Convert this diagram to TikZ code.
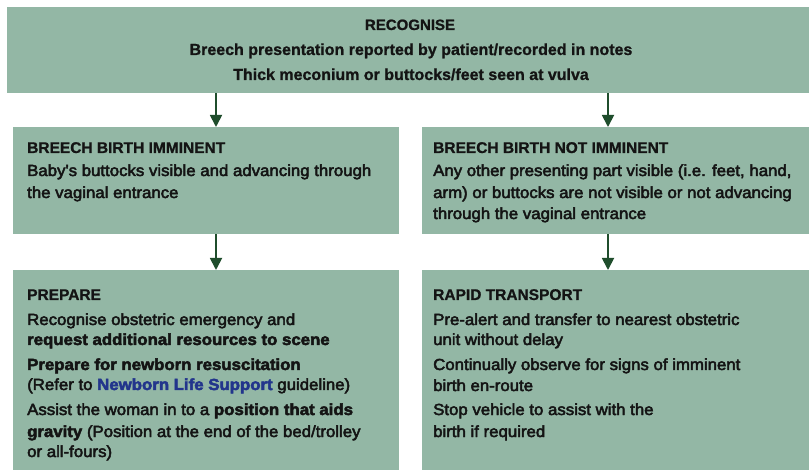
\documentclass[tikz,border=0pt]{standalone}
\usepackage{fontspec}
\setmainfont{Liberation Sans}[BoldFeatures={FakeBold=1}]
\newfontfamily\medf[FakeBold=3,FakeStretch=1.05]{Liberation Sans}
\usetikzlibrary{arrows.meta}
\definecolor{boxfill}{HTML}{93B7A5}
\definecolor{arrowc}{HTML}{1F4D2C}
\definecolor{txt}{HTML}{141414}
\definecolor{linkblue}{HTML}{22358C}
\tikzset{
  box/.style={fill=boxfill, draw=none, inner sep=0pt, anchor=north west},
  ln/.style={anchor=base west, inner sep=0pt, text=txt, font=\fontsize{16}{18}\selectfont\medf},
  ttl/.style={anchor=base west, inner sep=0pt, text=txt, font=\fontsize{15.5}{18}\selectfont\bfseries},
  cln/.style={anchor=base, inner sep=0pt, text=txt, font=\fontsize{16}{18}\selectfont\bfseries},
  arr/.style={draw=arrowc, line width=1.8pt, -{Triangle[width=12pt,length=12pt]}}
}
\newcommand{\bq}[1]{{\fontsize{16}{18}\selectfont\bfseries #1}}
\begin{document}
\begin{tikzpicture}[x=1pt,y=-1pt]
\useasboundingbox (0,0) rectangle (809,470);
\fill[white] (0,0) rectangle (809,470);
% boxes
\node[box, minimum width=802pt, minimum height=86pt] (top) at (7,7) {};
\node[box, minimum width=386pt, minimum height=107pt] (mL) at (13,127) {};
\node[box, minimum width=387pt, minimum height=107pt] (mR) at (422,127) {};
\node[box, minimum width=386pt, minimum height=200pt] (bL) at (13,270) {};
\node[box, minimum width=387pt, minimum height=200pt] (bR) at (422,270) {};
% top text
\node[cln, font=\fontsize{15}{18}\selectfont\bfseries] (t1) at (410,30) {RECOGNISE};
\node[cln] (t2) at (411,55) {Breech presentation reported by patient/recorded in notes};
\node[cln] (t3) at (411,80) {Thick meconium or buttocks/feet seen at vulva};
% middle left
\node[ttl] (ml1) at (27,153) {BREECH BIRTH IMMINENT};
\node[ln] (ml2) at (27,176) {Baby's buttocks visible and advancing through};
\node[ln] (ml3) at (27,198) {the vaginal entrance};
% middle right
\node[ttl] (mr1) at (433,153) {BREECH BIRTH NOT IMMINENT};
\node[ln] (mr2) at (433,176) {Any other presenting part visible (i.e. feet, hand,};
\node[ln] (mr3) at (433,198) {arm) or buttocks are not visible or not advancing};
\node[ln] (mr4) at (433,219) {through the vaginal entrance};
% bottom left
\node[ttl] (bl1) at (27,300) {PREPARE};
\node[ln] (bl2) at (27,325) {Recognise obstetric emergency and};
\node[ln] (bl3) at (27,345) {\bq{request additional resources to scene}};
\node[ln] (bl4) at (27,370) {\bq{Prepare for newborn resuscitation}};
\node[ln] (bl5) at (27,390) {(Refer to \bq{\color{linkblue}Newborn Life Support} guideline)};
\node[ln] (bl6) at (27,415) {Assist the woman in to a \bq{position that aids}};
\node[ln] (bl7) at (27,437) {\bq{gravity} (Position at the end of the bed/trolley};
\node[ln] (bl8) at (27,457) {or all-fours)};
% bottom right
\node[ttl] (br1) at (433,300) {RAPID TRANSPORT};
\node[ln] (br2) at (433,325) {Pre-alert and transfer to nearest obstetric};
\node[ln] (br3) at (433,345) {unit without delay};
\node[ln] (br4) at (433,370) {Continually observe for signs of imminent};
\node[ln] (br5) at (433,391) {birth en-route};
\node[ln] (br6) at (433,415) {Stop vehicle to assist with the};
\node[ln] (br7) at (433,437) {birth if required};
% arrows
\coordinate (xa) at (216,0);
\coordinate (xb) at (608,0);
\draw[arr] (top.south -| xa) -- (mL.north -| xa);
\draw[arr] (top.south -| xb) -- (mR.north -| xb);
\draw[arr] (mL.south -| xa) -- (bL.north -| xa);
\draw[arr] (mR.south -| xb) -- (bR.north -| xb);
\end{tikzpicture}
\end{document}
